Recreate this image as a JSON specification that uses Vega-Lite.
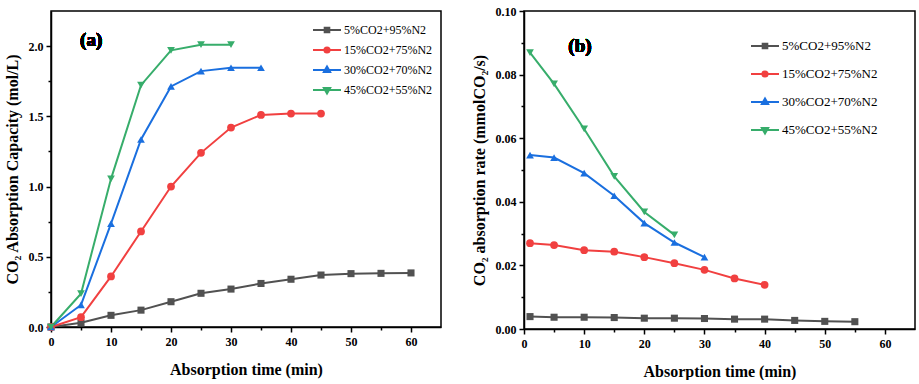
{
  "$schema": "https://vega.github.io/schema/vega-lite/v6.json",
  "background": "white",
  "padding": {"left": 3, "top": 4, "right": 0, "bottom": 0},
  "spacing": 28,
  "config": {
    "view": {"stroke": "black", "strokeWidth": 1.5},
    "axis": {
      "grid": false,
      "domainColor": "black", "domainWidth": 1.5,
      "tickColor": "black", "tickWidth": 1.5,
      "labelFont": "Liberation Serif", "labelFontWeight": "bold", "labelFontSize": 12, "labelColor": "black",
      "titleFont": "Liberation Serif", "titleFontWeight": "bold", "titleFontSize": 16, "titleColor": "black"
    },
    "legend": {
      "orient": "none", "title": null, "padding": 0,
      "labelFont": "Liberation Serif", "labelFontSize": 12, "labelColor": "black",
      "symbolSize": 196, "symbolStrokeWidth": 2, "labelOffset": 9, "symbolOpacity": 1
    }
  },
  "datasets": {
    "a": [
      {"series": "5%CO2+95%N2", "t": 0, "v": 0},
      {"series": "5%CO2+95%N2", "t": 5, "v": 0.03},
      {"series": "5%CO2+95%N2", "t": 10, "v": 0.083},
      {"series": "5%CO2+95%N2", "t": 15, "v": 0.12},
      {"series": "5%CO2+95%N2", "t": 20, "v": 0.18},
      {"series": "5%CO2+95%N2", "t": 25, "v": 0.24},
      {"series": "5%CO2+95%N2", "t": 30, "v": 0.27},
      {"series": "5%CO2+95%N2", "t": 35, "v": 0.31},
      {"series": "5%CO2+95%N2", "t": 40, "v": 0.34},
      {"series": "5%CO2+95%N2", "t": 45, "v": 0.37},
      {"series": "5%CO2+95%N2", "t": 50, "v": 0.38},
      {"series": "5%CO2+95%N2", "t": 55, "v": 0.382},
      {"series": "5%CO2+95%N2", "t": 60, "v": 0.385},
      {"series": "15%CO2+75%N2", "t": 0, "v": 0},
      {"series": "15%CO2+75%N2", "t": 5, "v": 0.07},
      {"series": "15%CO2+75%N2", "t": 10, "v": 0.36},
      {"series": "15%CO2+75%N2", "t": 15, "v": 0.68},
      {"series": "15%CO2+75%N2", "t": 20, "v": 1.0},
      {"series": "15%CO2+75%N2", "t": 25, "v": 1.24},
      {"series": "15%CO2+75%N2", "t": 30, "v": 1.42},
      {"series": "15%CO2+75%N2", "t": 35, "v": 1.51},
      {"series": "15%CO2+75%N2", "t": 40, "v": 1.52},
      {"series": "15%CO2+75%N2", "t": 45, "v": 1.52},
      {"series": "30%CO2+70%N2", "t": 0, "v": 0},
      {"series": "30%CO2+70%N2", "t": 5, "v": 0.157},
      {"series": "30%CO2+70%N2", "t": 10, "v": 0.736},
      {"series": "30%CO2+70%N2", "t": 15, "v": 1.335},
      {"series": "30%CO2+70%N2", "t": 20, "v": 1.713},
      {"series": "30%CO2+70%N2", "t": 25, "v": 1.822},
      {"series": "30%CO2+70%N2", "t": 30, "v": 1.846},
      {"series": "30%CO2+70%N2", "t": 35, "v": 1.846},
      {"series": "45%CO2+55%N2", "t": 0, "v": 0},
      {"series": "45%CO2+55%N2", "t": 5, "v": 0.237},
      {"series": "45%CO2+55%N2", "t": 10, "v": 1.055},
      {"series": "45%CO2+55%N2", "t": 15, "v": 1.722},
      {"series": "45%CO2+55%N2", "t": 20, "v": 1.97},
      {"series": "45%CO2+55%N2", "t": 25, "v": 2.01},
      {"series": "45%CO2+55%N2", "t": 30, "v": 2.01}
    ],
    "b": [
      {"series": "5%CO2+95%N2", "t": 1, "v": 0.0039},
      {"series": "5%CO2+95%N2", "t": 5, "v": 0.0037},
      {"series": "5%CO2+95%N2", "t": 10, "v": 0.0037},
      {"series": "5%CO2+95%N2", "t": 15, "v": 0.0036},
      {"series": "5%CO2+95%N2", "t": 20, "v": 0.0034},
      {"series": "5%CO2+95%N2", "t": 25, "v": 0.0034},
      {"series": "5%CO2+95%N2", "t": 30, "v": 0.0033},
      {"series": "5%CO2+95%N2", "t": 35, "v": 0.0031},
      {"series": "5%CO2+95%N2", "t": 40, "v": 0.0031},
      {"series": "5%CO2+95%N2", "t": 45, "v": 0.0027},
      {"series": "5%CO2+95%N2", "t": 50, "v": 0.0024},
      {"series": "5%CO2+95%N2", "t": 55, "v": 0.0023},
      {"series": "15%CO2+75%N2", "t": 1, "v": 0.027},
      {"series": "15%CO2+75%N2", "t": 5, "v": 0.0264},
      {"series": "15%CO2+75%N2", "t": 10, "v": 0.0248},
      {"series": "15%CO2+75%N2", "t": 15, "v": 0.0243},
      {"series": "15%CO2+75%N2", "t": 20, "v": 0.0226},
      {"series": "15%CO2+75%N2", "t": 25, "v": 0.0207},
      {"series": "15%CO2+75%N2", "t": 30, "v": 0.0186},
      {"series": "15%CO2+75%N2", "t": 35, "v": 0.0159},
      {"series": "15%CO2+75%N2", "t": 40, "v": 0.0139},
      {"series": "30%CO2+70%N2", "t": 1, "v": 0.0547},
      {"series": "30%CO2+70%N2", "t": 5, "v": 0.0539},
      {"series": "30%CO2+70%N2", "t": 10, "v": 0.049},
      {"series": "30%CO2+70%N2", "t": 15, "v": 0.0419},
      {"series": "30%CO2+70%N2", "t": 20, "v": 0.0333},
      {"series": "30%CO2+70%N2", "t": 25, "v": 0.0272},
      {"series": "30%CO2+70%N2", "t": 30, "v": 0.0226},
      {"series": "45%CO2+55%N2", "t": 1, "v": 0.0869},
      {"series": "45%CO2+55%N2", "t": 5, "v": 0.0771},
      {"series": "45%CO2+55%N2", "t": 10, "v": 0.0629},
      {"series": "45%CO2+55%N2", "t": 15, "v": 0.048},
      {"series": "45%CO2+55%N2", "t": 20, "v": 0.0368},
      {"series": "45%CO2+55%N2", "t": 25, "v": 0.0296}
    ]
  },
  "resolve": {
    "scale": {"color": "independent", "shape": "independent", "x": "independent", "y": "independent"},
    "legend": {"color": "independent", "shape": "independent"}
  },
  "hconcat": [
    {
      "width": 390,
      "height": 316,
      "data": {"name": "a"},
      "resolve": {"scale": {"color": "independent", "shape": "independent"}, "legend": {"color": "independent", "shape": "independent"}},
      "encoding": {
        "x": {
          "field": "t", "type": "quantitative",
          "scale": {"domain": [0, 65], "nice": false, "zero": false},
          "axis": {
            "title": "Absorption time (min)",
            "values": [0, 5, 10, 15, 20, 25, 30, 35, 40, 45, 50, 55, 60],
            "labelExpr": "datum.value % 10 == 0 ? datum.label : ''",
            "tickSize": {"condition": {"test": "datum.value % 10 == 0", "value": 5}, "value": 3},
            "labelPadding": 4, "titlePadding": 14, "labelFlush": false
          }
        },
        "y": {
          "field": "v", "type": "quantitative",
          "scale": {"domain": [0, 2.25], "nice": false},
          "axis": {
            "title": "CO₂ Absorption Capacity (mol/L)",
            "values": [0, 0.25, 0.5, 0.75, 1, 1.25, 1.5, 1.75, 2],
            "format": ".1f",
            "labelExpr": "(datum.value * 2) % 1 == 0 ? datum.label : ''",
            "tickSize": {"condition": {"test": "(datum.value * 2) % 1 == 0", "value": 5}, "value": 3},
            "labelPadding": 3, "titlePadding": 8, "labelFlush": false
          }
        },
        "color": {
          "field": "series", "type": "nominal",
          "scale": {"domain": ["5%CO2+95%N2", "15%CO2+75%N2", "30%CO2+70%N2", "45%CO2+55%N2"], "range": ["#515151", "#F14040", "#1A6FDF", "#37AD6B"]},
          "legend": null
        }
      },
      "layer": [
        {"mark": {"type": "line", "strokeWidth": 2}},
        {"transform": [{"filter": "datum.series == '5%CO2+95%N2'"}], "mark": {"type": "point", "filled": true, "opacity": 1, "size": 50, "shape": "square"}},
        {"transform": [{"filter": "datum.series == '15%CO2+75%N2'"}], "mark": {"type": "point", "filled": true, "opacity": 1, "size": 60, "shape": "circle"}},
        {"transform": [{"filter": "datum.series == '30%CO2+70%N2'"}], "mark": {"type": "point", "filled": true, "opacity": 1, "size": 60, "shape": "triangle-up"}},
        {"transform": [{"filter": "datum.series == '45%CO2+55%N2'"}], "mark": {"type": "point", "filled": true, "opacity": 1, "size": 60, "shape": "triangle-down"}},
        {
          "mark": {"type": "point", "filled": false, "opacity": 0, "strokeWidth": 2},
          "encoding": {
            "color": {
              "field": "series", "type": "nominal",
              "scale": {"domain": ["5%CO2+95%N2", "15%CO2+75%N2", "30%CO2+70%N2", "45%CO2+55%N2"], "range": ["#515151", "#F14040", "#1A6FDF", "#37AD6B"]},
              "legend": {"legendX": 268, "legendY": 11, "rowPadding": 5, "symbolOpacity": 1}
            },
            "shape": {
              "field": "series", "type": "nominal",
              "scale": {
                "domain": ["5%CO2+95%N2", "15%CO2+75%N2", "30%CO2+70%N2", "45%CO2+55%N2"],
                "range": [
                  "M-2,0H2M-0.33,-0.33H0.33V0.33H-0.33ZM-0.1,-0.1H0.1V0.1H-0.1Z",
                  "M-2,0H2M0.37,0A0.37,0.37,0,1,1,-0.37,0A0.37,0.37,0,1,1,0.37,0ZM0.12,0A0.12,0.12,0,1,1,-0.12,0A0.12,0.12,0,1,1,0.12,0Z",
                  "M-2,0H2M0,-0.5L0.45,0.3L-0.45,0.3ZM0,-0.15L0.16,0.13L-0.16,0.13Z",
                  "M-2,0H2M0,0.5L0.45,-0.3L-0.45,-0.3ZM0,0.15L0.16,-0.13L-0.16,-0.13Z"
                ]
              },
              "legend": {"legendX": 268, "legendY": 11, "rowPadding": 5, "symbolOpacity": 1}
            }
          }
        },
        {
          "mark": {"type": "text", "font": "Liberation Serif", "fontWeight": "bold", "fontSize": 19},
          "encoding": {
            "x": {"datum": 6.7, "type": "quantitative"},
            "y": {"datum": 2.04, "type": "quantitative"},
            "text": {"value": "(a)"},
            "color": {"value": "black"}
          }
        }
      ]
    },
    {
      "width": 391,
      "height": 318,
      "data": {"name": "b"},
      "resolve": {"scale": {"color": "independent", "shape": "independent"}, "legend": {"color": "independent", "shape": "independent"}},
      "encoding": {
        "x": {
          "field": "t", "type": "quantitative",
          "scale": {"domain": [0, 65], "nice": false, "zero": false},
          "axis": {
            "title": "Absorption time (min)",
            "values": [0, 5, 10, 15, 20, 25, 30, 35, 40, 45, 50, 55, 60],
            "labelExpr": "datum.value % 10 == 0 ? datum.label : ''",
            "tickSize": {"condition": {"test": "datum.value % 10 == 0", "value": 5}, "value": 3},
            "labelPadding": 4, "titlePadding": 14, "labelFlush": false
          }
        },
        "y": {
          "field": "v", "type": "quantitative",
          "scale": {"domain": [0, 0.1], "nice": false},
          "axis": {
            "title": "CO₂ absorption rate (mmolCO₂/s)",
            "values": [0, 0.01, 0.02, 0.03, 0.04, 0.05, 0.06, 0.07, 0.08, 0.09, 0.1],
            "format": ".2f",
            "labelExpr": "round(datum.value * 100) % 2 == 0 ? datum.label : ''",
            "tickSize": {"condition": {"test": "round(datum.value * 100) % 2 == 0", "value": 5}, "value": 3},
            "labelPadding": 3, "titlePadding": 8, "labelFlush": false
          }
        },
        "color": {
          "field": "series", "type": "nominal",
          "scale": {"domain": ["5%CO2+95%N2", "15%CO2+75%N2", "30%CO2+70%N2", "45%CO2+55%N2"], "range": ["#515151", "#F14040", "#1A6FDF", "#37AD6B"]},
          "legend": null
        }
      },
      "layer": [
        {"mark": {"type": "line", "strokeWidth": 2}},
        {"transform": [{"filter": "datum.series == '5%CO2+95%N2'"}], "mark": {"type": "point", "filled": true, "opacity": 1, "size": 50, "shape": "square"}},
        {"transform": [{"filter": "datum.series == '15%CO2+75%N2'"}], "mark": {"type": "point", "filled": true, "opacity": 1, "size": 60, "shape": "circle"}},
        {"transform": [{"filter": "datum.series == '30%CO2+70%N2'"}], "mark": {"type": "point", "filled": true, "opacity": 1, "size": 60, "shape": "triangle-up"}},
        {"transform": [{"filter": "datum.series == '45%CO2+55%N2'"}], "mark": {"type": "point", "filled": true, "opacity": 1, "size": 60, "shape": "triangle-down"}},
        {
          "mark": {"type": "point", "filled": false, "opacity": 0, "strokeWidth": 2},
          "encoding": {
            "color": {
              "field": "series", "type": "nominal",
              "scale": {"domain": ["5%CO2+95%N2", "15%CO2+75%N2", "30%CO2+70%N2", "45%CO2+55%N2"], "range": ["#515151", "#F14040", "#1A6FDF", "#37AD6B"]},
              "legend": {"legendX": 233, "legendY": 27, "rowPadding": 13, "labelFontSize": 13, "symbolOpacity": 1}
            },
            "shape": {
              "field": "series", "type": "nominal",
              "scale": {
                "domain": ["5%CO2+95%N2", "15%CO2+75%N2", "30%CO2+70%N2", "45%CO2+55%N2"],
                "range": [
                  "M-2,0H2M-0.33,-0.33H0.33V0.33H-0.33ZM-0.1,-0.1H0.1V0.1H-0.1Z",
                  "M-2,0H2M0.37,0A0.37,0.37,0,1,1,-0.37,0A0.37,0.37,0,1,1,0.37,0ZM0.12,0A0.12,0.12,0,1,1,-0.12,0A0.12,0.12,0,1,1,0.12,0Z",
                  "M-2,0H2M0,-0.5L0.45,0.3L-0.45,0.3ZM0,-0.15L0.16,0.13L-0.16,0.13Z",
                  "M-2,0H2M0,0.5L0.45,-0.3L-0.45,-0.3ZM0,0.15L0.16,-0.13L-0.16,-0.13Z"
                ]
              },
              "legend": {"legendX": 233, "legendY": 27, "rowPadding": 13, "labelFontSize": 13, "symbolOpacity": 1}
            }
          }
        },
        {
          "mark": {"type": "text", "font": "Liberation Serif", "fontWeight": "bold", "fontSize": 19},
          "encoding": {
            "x": {"datum": 9.3, "type": "quantitative"},
            "y": {"datum": 0.089, "type": "quantitative"},
            "text": {"value": "(b)"},
            "color": {"value": "black"}
          }
        }
      ]
    }
  ]
}
